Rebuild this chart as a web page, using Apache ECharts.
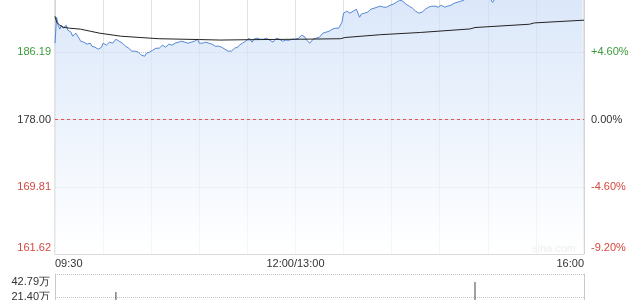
<!DOCTYPE html>
<html><head><meta charset="utf-8">
<script src="https://cdn.jsdelivr.net/npm/echarts@6/dist/echarts.min.js"></script>
<style>html,body{margin:0;padding:0;background:#fff}#c{width:640px;height:300px}</style>
</head><body><div id="c"></div>
<script>
// ---- data ----
const prevClose = 178.00;
const priceTicks = [161.62, 169.81, 178.00, 186.19, 194.38];
const pctTicks = [-9.20, -4.60, 0.00, 4.60, 9.20];
const timeTickMinutes = [0, 150, 330];
const timeTickLabels = ['09:30', '12:00/13:00', '16:00'];
// price per minute (index = minutes after 09:30, lunch break removed)
const prices = [
187.26,190.41,189.44,188.96,189.44,189.08,189.20,189.44,188.84,189.08,
188.59,188.11,188.11,188.47,188.23,187.87,187.50,187.26,187.38,187.38,
187.14,187.02,187.26,186.89,186.65,186.77,186.77,186.53,186.41,186.77,
187.26,187.14,187.02,187.26,187.38,187.26,187.26,187.50,187.74,187.87,
187.50,187.38,187.26,187.02,186.89,186.77,186.65,186.53,186.29,186.17,
186.29,186.41,186.17,186.04,185.80,185.56,185.68,186.04,186.04,186.17,
186.29,186.41,186.53,186.65,186.65,186.65,186.77,187.02,186.89,186.77,
186.89,187.14,187.26,187.02,187.14,187.26,187.26,187.38,187.38,187.50,
187.50,187.38,187.26,187.26,187.26,187.38,187.38,187.50,187.62,187.74,
187.26,187.38,187.26,187.26,187.38,187.26,187.26,187.26,187.14,187.02,
186.89,186.77,186.89,186.89,186.77,186.65,186.53,186.41,186.29,186.17,
186.29,186.53,186.65,186.77,186.77,187.02,187.14,187.26,187.38,187.50,
187.74,187.87,187.99,187.38,187.74,187.87,187.87,187.74,187.74,187.74,
187.74,187.74,187.87,187.74,187.62,187.50,187.38,187.62,187.87,187.99,
187.74,187.50,187.50,187.62,187.62,187.62,187.62,187.74,187.74,187.74,
187.74,187.87,187.87,187.99,188.23,188.23,187.99,187.62,187.38,187.26,
187.50,187.74,187.74,187.87,187.87,187.99,188.11,188.47,188.47,188.59,
188.59,188.71,188.84,188.96,188.96,189.08,189.20,189.08,188.96,189.81,
190.90,191.14,191.14,191.02,190.90,191.02,191.14,191.26,191.38,191.26,
190.41,190.78,190.90,190.90,191.02,191.02,191.14,191.38,191.50,191.50,
191.63,191.63,191.63,191.75,191.75,191.63,191.75,191.63,191.75,191.87,
191.87,191.99,192.11,192.23,192.35,192.47,192.47,192.35,192.23,191.99,
191.87,191.75,191.63,191.50,191.38,191.14,191.02,190.90,190.66,191.02,
191.26,191.38,191.50,191.63,191.75,191.75,191.87,191.75,191.63,191.63,
191.75,191.87,191.87,191.63,191.50,191.75,191.87,191.87,191.99,192.11,
192.11,192.23,192.23,192.35,192.35,192.47,192.62,192.80,192.95,193.10,
193.25,193.18,193.40,193.52,193.45,193.30,193.15,193.05,192.90,192.80,
192.70,192.90,192.52,192.20,192.55,192.90,193.10,193.30,193.45,193.60,
193.72,193.65,193.80,193.92,194.05,193.95,194.10,194.22,194.38,194.20,
194.05,193.90,193.98,194.10,194.15,194.00,193.85,193.75,193.90,194.02,
193.95,193.80,193.70,193.85,193.95,194.05,194.12,194.00,193.88,193.80,
193.92,194.05,194.18,194.10,193.95,193.85,193.90,194.02,194.10,194.20,
194.12,194.00,193.92,194.05,194.15,194.25,194.18,194.10,194.20,194.28,
194.30
];
const avgMinutes = [0,1,3,5,9,16,22,28,41,53,65,90,103,128,153,178,181,203,228,259,262,296,299,330];
const avgValues  = [190.53,189.80,189.44,189.20,189.08,188.96,188.71,188.47,188.11,187.95,187.80,187.70,187.64,187.70,187.74,187.80,187.95,188.29,188.56,188.99,189.16,189.56,189.72,190.05];
const volMinutes = [38, 262];
const volValues = [26.0, 35.3];           // 万
const volTickValues = [0, 21.395, 42.79];
const volTickLabels = ['', '21.40万', '42.79万'];

// ---- chart ----
const GREEN = '#3a9a3a', RED = '#d4483e', TXT = '#333';
const FONT = 'Liberation Sans, Arial, sans-serif';
function nearestIdx(arr, v){ let b=0; for(let i=1;i<arr.length;i++) if(Math.abs(arr[i]-v)<Math.abs(arr[b]-v)) b=i; return b; }
function styleKey(i){ return i>2 ? 'g' : (i<2 ? 'r' : 'k'); }
function shiftText(i, n, s){ // push bottom label up, top label down
  if(i===0) return s + '\n{k| }';
  if(i===n-1) return '{k| }\n' + s;
  return s;
}
const richBase = {
  g:{color:GREEN, fontSize:11, fontFamily:FONT, lineHeight:13},
  r:{color:RED, fontSize:11, fontFamily:FONT, lineHeight:13},
  k:{color:TXT, fontSize:11, fontFamily:FONT, lineHeight:13}
};

const chart = echarts.init(document.getElementById('c'), null, {renderer:'canvas'});
chart.setOption({
  animation:false,
  grid:[
    {left:55, right:56, top:-15.5, bottom:45.5, show:true, borderColor:'#c8c8c8', borderWidth:1, backgroundColor:'transparent', containLabel:false, outerBoundsMode:'none'},
    {left:55, right:56, top:274, bottom:-20, show:false, containLabel:false, outerBoundsMode:'none'}
  ],
  xAxis:[
    {type:'value', gridIndex:0, min:0, max:330, interval:30,
     axisLine:{show:true, lineStyle:{color:'#c8c8c8'}}, axisTick:{show:false},
     splitLine:{show:true, lineStyle:{color:'#c6c6c6', type:'dotted'}},
     axisLabel:{show:true, color:TXT, fontSize:11, fontFamily:FONT, margin:4,
       alignMinLabel:'left', alignMaxLabel:'right', showMinLabel:true, showMaxLabel:true,
       formatter:function(v){ const i = timeTickMinutes.indexOf(Math.round(v)); return i>=0 ? timeTickLabels[i] : ''; }}},
    {type:'value', gridIndex:1, min:0, max:330, interval:30,
     axisLine:{show:false}, axisTick:{show:false}, axisLabel:{show:false}, splitLine:{show:false}}
  ],
  yAxis:[
    {type:'value', gridIndex:0, position:'left', min:priceTicks[0], max:priceTicks[4], interval:8.19,
     axisLine:{show:false}, axisTick:{show:false},
     splitLine:{show:true, lineStyle:{color:'#c6c6c6', type:'dotted'}},
     axisLabel:{margin:4, rich:richBase,
       formatter:function(v){ const i=nearestIdx(priceTicks,v); return shiftText(i,5,'{'+styleKey(i)+'|'+priceTicks[i].toFixed(2)+'}'); }}},
    {type:'value', gridIndex:0, position:'right', min:pctTicks[0], max:pctTicks[4], interval:4.6,
     axisLine:{show:false}, axisTick:{show:false}, splitLine:{show:false},
     axisLabel:{margin:7, rich:richBase,
       formatter:function(v){ const i=nearestIdx(pctTicks,v); const t=pctTicks[i]; const s=(t>0?'+':'')+t.toFixed(2)+'%'; return shiftText(i,5,'{'+styleKey(i)+'|'+s+'}'); }}},
    {type:'value', gridIndex:1, position:'left', min:0, max:volTickValues[2], interval:volTickValues[1],
     axisLine:{show:true, lineStyle:{color:'#c8c8c8'}}, axisTick:{show:false},
     splitLine:{show:true, lineStyle:{color:'#c6c6c6', type:'dotted'}},
     axisLabel:{margin:5, rich:{k:{color:TXT, fontSize:11, fontFamily:FONT, lineHeight:15}},
       formatter:function(v){ const i=nearestIdx(volTickValues,v); if(!volTickLabels[i]) return ''; const s='{k|'+volTickLabels[i]+'}'; return i===2 ? '{k| }\n'+s : s; }}},
    {type:'value', gridIndex:1, position:'right', min:0, max:volTickValues[2],
     axisLine:{show:true, lineStyle:{color:'#c8c8c8'}}, axisTick:{show:false}, axisLabel:{show:false}, splitLine:{show:false}}
  ],
  series:[
    {type:'line', xAxisIndex:0, yAxisIndex:0, showSymbol:false, symbol:'none',
     data:prices.map((p,i)=>[i,p]),
     lineStyle:{color:'#5586d4', width:1},
     areaStyle:{origin:'start', color:new echarts.graphic.LinearGradient(0,0,0,1,[{offset:0,color:'#c8dbf6'},{offset:1,color:'#ffffff'}])},
     markLine:{symbol:'none', silent:true, label:{show:false}, animation:false, z:10,
       lineStyle:{color:'#e85050', type:[3,3], width:1}, data:[{yAxis:prevClose}]}},
    {type:'line', xAxisIndex:0, yAxisIndex:0, showSymbol:false, symbol:'none',
     data:avgMinutes.map((m,i)=>[m,avgValues[i]]),
     lineStyle:{color:'#222', width:1}},
    {type:'bar', xAxisIndex:1, yAxisIndex:2, barWidth:1,
     data:volMinutes.map((m,i)=>[m,volValues[i]]),
     itemStyle:{color:'#444'}}
  ],
  graphic:[
    {type:'text', left:532, top:243, silent:true,
     style:{text:'sina.com', fill:'#cacaca', font:'11px Liberation Sans, Arial, sans-serif'}}
  ]
});
</script>
</body></html>
